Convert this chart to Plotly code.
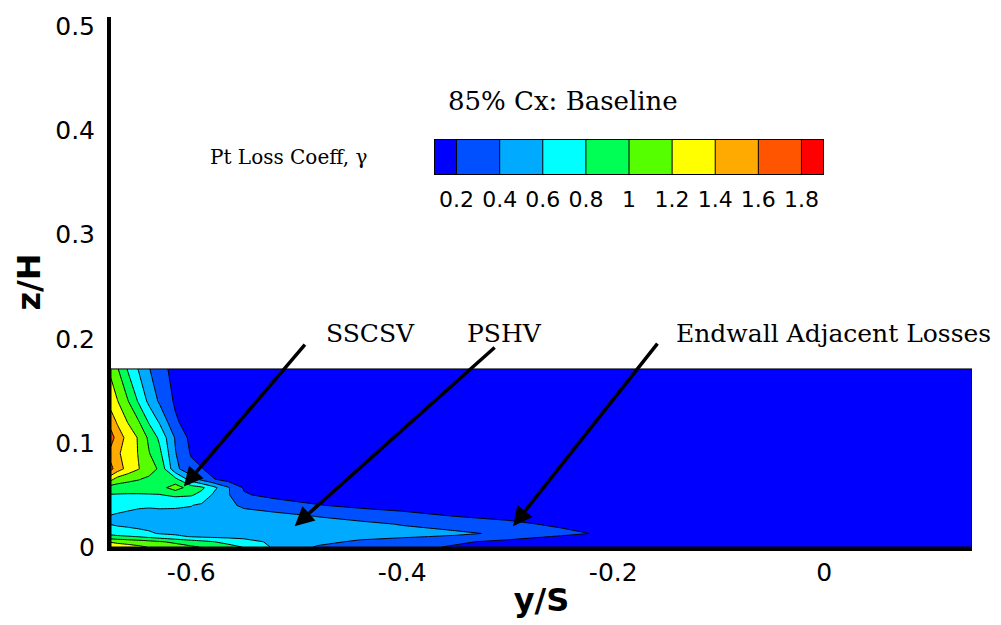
import plotly.graph_objects as go

# ---------------- data ----------------
# pitchwise position y/S of the measurement columns
y_over_s = [-0.676, -0.67, -0.66, -0.65, -0.64, -0.63, -0.615, -0.60, -0.59, -0.58,
            -0.565, -0.55, -0.52, -0.48, -0.44, -0.40, -0.35, -0.30, -0.25, -0.20, 0.14]
# spanwise position z/H of the measurement rows
z_over_h = [0.0, 0.005, 0.01, 0.013, 0.022, 0.03, 0.04, 0.05, 0.057, 0.065,
            0.075, 0.09, 0.105, 0.12, 0.14, 0.171]

# Pt loss coefficient gamma, one list per z/H row
gamma_z0000 = [1.35, 1.32, 1.28, 1.24, 1.19, 1.16, 1.09, 1.03, 0.99, 0.95, 0.87, 0.79, 0.56, 0.38, 0.32, 0.26, 0.18, 0.12, 0.08, 0.06, 0.05]
gamma_z0005 = [1.18, 1.15, 1.12, 1.09, 1.06, 1.02, 0.96, 0.89, 0.85, 0.81, 0.74, 0.68, 0.55, 0.45, 0.37, 0.33, 0.23, 0.15, 0.09, 0.06, 0.05]
gamma_z0010 = [0.86, 0.84, 0.82, 0.79, 0.74, 0.70, 0.64, 0.59, 0.57, 0.56, 0.55, 0.54, 0.52, 0.49, 0.45, 0.42, 0.38, 0.28, 0.18, 0.11, 0.05]
gamma_z0013 = [0.75, 0.72, 0.68, 0.65, 0.62, 0.59, 0.57, 0.56, 0.55, 0.55, 0.54, 0.54, 0.53, 0.51, 0.48, 0.46, 0.43, 0.37, 0.26, 0.15, 0.05]
gamma_z0022 = [0.59, 0.57, 0.56, 0.55, 0.55, 0.55, 0.55, 0.55, 0.54, 0.54, 0.53, 0.52, 0.50, 0.47, 0.44, 0.39, 0.33, 0.25, 0.16, 0.10, 0.05]
gamma_z0030 = [0.595, 0.585, 0.575, 0.57, 0.57, 0.57, 0.565, 0.56, 0.55, 0.54, 0.52, 0.49, 0.45, 0.39, 0.33, 0.27, 0.19, 0.14, 0.09, 0.07, 0.05]
gamma_z0040 = [0.66, 0.65, 0.63, 0.615, 0.61, 0.615, 0.615, 0.605, 0.57, 0.53, 0.45, 0.36, 0.30, 0.21, 0.15, 0.11, 0.08, 0.06, 0.05, 0.05, 0.05]
gamma_z0050 = [0.79, 0.785, 0.78, 0.78, 0.785, 0.79, 0.84, 0.82, 0.74, 0.59, 0.42, 0.22, 0.14, 0.10, 0.08, 0.07, 0.06, 0.05, 0.05, 0.05, 0.05]
gamma_z0057 = [0.90, 0.90, 0.90, 0.90, 0.90, 0.92, 1.10, 0.90, 0.84, 0.68, 0.42, 0.18, 0.10, 0.07, 0.06, 0.05, 0.05, 0.05, 0.05, 0.05, 0.05]
gamma_z0065 = [1.25, 1.12, 1.05, 1.01, 0.96, 0.93, 0.86, 0.50, 0.34, 0.22, 0.12, 0.08, 0.06, 0.05, 0.05, 0.05, 0.05, 0.05, 0.05, 0.05, 0.05]
gamma_z0075 = [1.65, 1.50, 1.33, 1.21, 1.09, 0.97, 0.45, 0.26, 0.21, 0.14, 0.09, 0.07, 0.05, 0.05, 0.05, 0.05, 0.05, 0.05, 0.05, 0.05, 0.05]
gamma_z0090 = [1.52, 1.43, 1.32, 1.19, 1.01, 0.85, 0.41, 0.18, 0.12, 0.09, 0.07, 0.06, 0.05, 0.05, 0.05, 0.05, 0.05, 0.05, 0.05, 0.05, 0.05]
gamma_z0105 = [1.70, 1.50, 1.34, 1.18, 0.96, 0.76, 0.38, 0.14, 0.09, 0.07, 0.06, 0.05, 0.05, 0.05, 0.05, 0.05, 0.05, 0.05, 0.05, 0.05, 0.05]
gamma_z0120 = [1.50, 1.38, 1.19, 1.02, 0.78, 0.58, 0.23, 0.10, 0.07, 0.06, 0.05, 0.05, 0.05, 0.05, 0.05, 0.05, 0.05, 0.05, 0.05, 0.05, 0.05]
gamma_z0140 = [1.32, 1.21, 1.01, 0.78, 0.55, 0.37, 0.17, 0.09, 0.06, 0.05, 0.05, 0.05, 0.05, 0.05, 0.05, 0.05, 0.05, 0.05, 0.05, 0.05, 0.05]
gamma_z0171 = [1.15, 1.02, 0.78, 0.59, 0.41, 0.29, 0.12, 0.07, 0.05, 0.05, 0.05, 0.05, 0.05, 0.05, 0.05, 0.05, 0.05, 0.05, 0.05, 0.05, 0.05]

gamma_rows = [gamma_z0000, gamma_z0005, gamma_z0010, gamma_z0013, gamma_z0022,
              gamma_z0030, gamma_z0040, gamma_z0050, gamma_z0057, gamma_z0065,
              gamma_z0075, gamma_z0090, gamma_z0105, gamma_z0120, gamma_z0140,
              gamma_z0171]

# contour levels and band colours of the legend
level_start, level_end, level_step = 0.2, 1.8, 0.2
band_colors = ["#0000FF", "#0050FF", "#00AAFF", "#00FFFF", "#00FF55",
               "#55FF00", "#FFFF00", "#FFAA00", "#FF5500", "#FF0000"]
legend_tickvals = [0.2, 0.4, 0.6, 0.8, 1.0, 1.2, 1.4, 1.6, 1.8]
legend_ticktext = ["0.2", "0.4", "0.6", "0.8", "1", "1.2", "1.4", "1.6", "1.8"]

x_tickvals = [-0.6, -0.4, -0.2, 0.0]
x_ticktext = ["-0.6", "-0.4", "-0.2", "0"]
y_tickvals = [0.0, 0.1, 0.2, 0.3, 0.4, 0.5]
y_ticktext = ["0", "0.1", "0.2", "0.3", "0.4", "0.5"]

# callouts: label, arrow tip (y/S, z/H), arrow tail (y/S, z/H), label position
callout_labels = ["SSCSV", "PSHV", "Endwall Adjacent Losses"]
callout_tips = [(-0.607, 0.058), (-0.502, 0.020), (-0.295, 0.020)]
callout_tails = [(-0.491, 0.1957), (-0.311, 0.1929), (-0.157, 0.1967)]
callout_text_pos = [(-0.4297, 0.2052), (-0.3026, 0.2052), (0.0092, 0.2052)]

# ---------------- figure ----------------
# plotly maps band k (midpoint level_start - step/2 + k*step) to colorscale k/(nbands-1)
nb = len(band_colors)
colorscale = []
for k, c in enumerate(band_colors):
    lo = max(0.0, (k - 0.5) / (nb - 1))
    hi = min(1.0, (k + 0.5) / (nb - 1))
    colorscale += [[lo, c], [hi, c]]

contour_cfg = dict(start=level_start, end=level_end, size=level_step,
                   coloring="fill", showlines=True)

fig = go.Figure()
fig.add_trace(go.Contour(
    x=y_over_s, y=z_over_h, z=gamma_rows,
    autocontour=False, contours=contour_cfg,
    colorscale=colorscale, showscale=False,
    line=dict(color="black", width=1, smoothing=0),
    hoverinfo="skip",
))

# legend strip drawn as a contour of the level range itself
leg_lo = level_start - level_step / 2
leg_hi = level_end + level_step / 2
fig.add_trace(go.Contour(
    x=[leg_lo, leg_hi], y=[0, 1], z=[[leg_lo, leg_hi], [leg_lo, leg_hi]],
    autocontour=False, contours=contour_cfg,
    colorscale=colorscale, showscale=False,
    line=dict(color="black", width=1, smoothing=0),
    xaxis="x2", yaxis="y2", hoverinfo="skip",
))

W, H = 1001, 625
ML, MR, MT, MB = 111, 29, 13, 76
pw, ph = W - ML - MR, H - MT - MB


def px_x(X):
    return (X - ML) / pw


def px_y(Y):
    return (H - MB - Y) / ph


tick_font = dict(family="DejaVu Sans", size=25, color="black")
title_font = dict(family="DejaVu Sans", size=32, color="black", weight="bold")
serif = "DejaVu Serif"

fig.update_layout(
    width=W, height=H,
    margin=dict(l=ML, r=MR, t=MT, b=MB, pad=0),
    paper_bgcolor="white", plot_bgcolor="white",
    showlegend=False,
    xaxis=dict(
        range=[y_over_s[0], y_over_s[-1]], domain=[0, 1],
        tickvals=x_tickvals, ticktext=x_ticktext, tickfont=tick_font,
        ticks="outside", ticklen=0, tickcolor="rgba(0,0,0,0)",
        showline=True, linewidth=4, linecolor="black",
        showgrid=False, zeroline=False,
        title=dict(text="y/S", font=title_font, standoff=4),
    ),
    yaxis=dict(
        range=[0, 0.509], domain=[0, 1],
        tickvals=y_tickvals, ticktext=y_ticktext, tickfont=tick_font,
        ticks="outside", ticklen=7, tickcolor="rgba(0,0,0,0)",
        showline=True, linewidth=4, linecolor="black",
        showgrid=False, zeroline=False,
        title=dict(text="z/H", font=title_font, standoff=6),
    ),
    xaxis2=dict(
        domain=[px_x(435), px_x(823)], anchor="y2", range=[leg_lo, leg_hi],
        tickvals=legend_tickvals, ticktext=legend_ticktext,
        tickfont=dict(family="DejaVu Sans", size=22, color="black"),
        ticks="outside", ticklen=5, tickcolor="rgba(0,0,0,0)",
        showline=True, mirror=True, linewidth=1, linecolor="black",
        showgrid=False, zeroline=False, fixedrange=True,
    ),
    yaxis2=dict(
        domain=[px_y(172), px_y(137)], anchor="x2", range=[0, 1],
        showticklabels=False, ticks="",
        showline=True, mirror=True, linewidth=1, linecolor="black",
        showgrid=False, zeroline=False, fixedrange=True,
    ),
)

# outline of the measured region
fig.add_shape(type="rect", xref="x", yref="y",
              x0=y_over_s[0], x1=y_over_s[-1], y0=z_over_h[0], y1=z_over_h[-1],
              line=dict(color="black", width=1), layer="above")

annotations = [
    dict(text="85% Cx: Baseline", xref="paper", yref="paper",
         x=px_x(563), y=px_y(98), xanchor="center", yanchor="middle",
         showarrow=False, font=dict(family=serif, size=26, color="black")),
    dict(text="Pt Loss Coeff, γ", xref="paper", yref="paper",
         x=px_x(288), y=px_y(155), xanchor="center", yanchor="middle",
         showarrow=False, font=dict(family=serif, size=20, color="black")),
]
for label, (tx, tz), (ax_, az_), (lx, lz) in zip(callout_labels, callout_tips,
                                                 callout_tails, callout_text_pos):
    annotations.append(dict(text="", x=tx, y=tz, ax=ax_, ay=az_,
                            xref="x", yref="y", axref="x", ayref="y",
                            showarrow=True, arrowhead=2, arrowsize=1.1,
                            arrowwidth=3.5, arrowcolor="black", standoff=0))
    annotations.append(dict(text=label, x=lx, y=lz, xref="x", yref="y",
                            xanchor="center", yanchor="middle", showarrow=False,
                            font=dict(family=serif, size=25, color="black")))
fig.update_layout(annotations=annotations)

fig.write_html("out.html", config={"displayModeBar": False},
               post_script="document.body.style.margin='0';")
